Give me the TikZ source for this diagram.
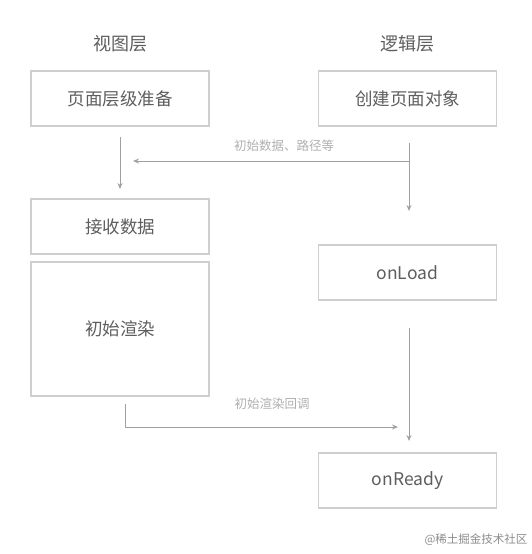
\documentclass[tikz,border=0pt]{standalone}
\usepackage{fontspec}
\newfontfamily\cjk{Noto Sans CJK SC}
\usetikzlibrary{arrows.meta}
\definecolor{boxline}{HTML}{CFCFCF}
\definecolor{txt}{HTML}{5E5E5E}
\definecolor{arr}{HTML}{A0A0A0}
\definecolor{lbl}{HTML}{B0B0B0}
\tikzset{
  box/.style={draw=boxline, line width=1.2pt, minimum width=178pt, minimum height=55pt, inner sep=0pt, text=txt, font=\cjk\fontsize{17.5}{19}\selectfont},
  head/.style={text=txt, font=\cjk\fontsize{18}{20}\selectfont},
  conn/.style={draw=arr, line width=1pt, -{Stealth[length=6pt,width=5pt]}},
  lab/.style={text=lbl, font=\cjk\fontsize{12.5}{14}\selectfont},
}
\begin{document}
\begin{tikzpicture}[x=1pt,y=-1pt]
\useasboundingbox[fill=white] (0,0) rectangle (531,554);
\node[head] (h1) at (120,44) {视图层};
\node[head] (h2) at (407,44) {逻辑层};
\node[box] (prep) at (120,98.5) {页面层级准备};
\node[box] (create) at (407.5,98.5) {创建页面对象};
\node[box] (recv) at (120,226.5) {接收数据};
\node[box, minimum height=134pt] (render) at (120,329) {初始渲染};
\node[box] (onload) at (407.5,272.5) {onLoad};
\node[box] (onready) at (407.5,480.5) {onReady};
\coordinate (a1s) at (120,137);
\coordinate (a1e) at (120,189);
\draw[conn] (a1s) -- (a1e);
\coordinate (a2s) at (409,143);
\coordinate (a2e) at (409,211);
\draw[conn] (a2s) -- (a2e);
\coordinate (a3s) at (409,161);
\coordinate (a3e) at (133,161);
\draw[conn] (a3s) -- (a3e);
\node[lab] (l1) at (284,146) {初始数据、路径等};
\coordinate (a4s) at (409,328);
\coordinate (a4e) at (409,441);
\draw[conn] (a4s) -- (a4e);
\coordinate (a5s) at (125,404);
\coordinate (a5m) at (125,427);
\coordinate (a5e) at (398,427);
\draw[conn] (a5s) -- (a5m) -- (a5e);
\node[lab] (l2) at (272,404) {初始渲染回调};
\node[lab, text=lbl!80!black, font=\cjk\fontsize{11.5}{13}\selectfont] (wm) at (476,540) {@稀土掘金技术社区};
\end{tikzpicture}
\end{document}
